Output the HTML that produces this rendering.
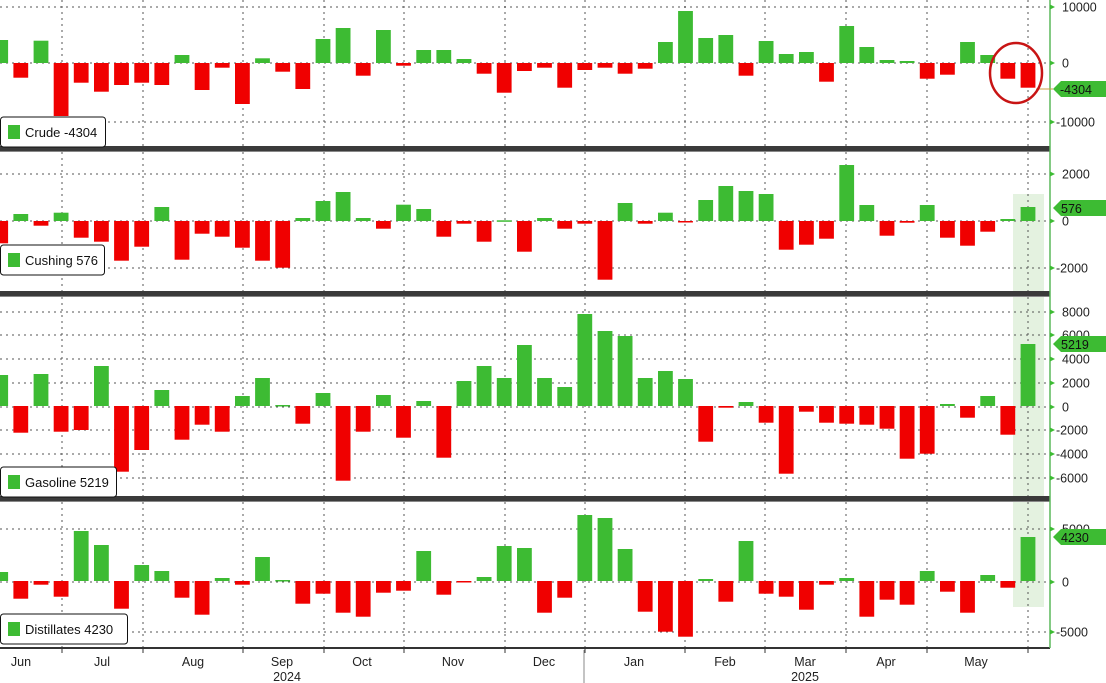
<!DOCTYPE html>
<html><head><meta charset="utf-8"><style>
html,body{margin:0;padding:0;background:#fff;overflow:hidden;}
svg{display:block;font-family:"Liberation Sans",sans-serif;}
</style></head><body>
<svg id="s" width="1106" height="683" xmlns="http://www.w3.org/2000/svg"></svg>
<script>
const s=document.getElementById('s');
let h='';
const KX=1050/1568, KY=1/3;
const G='#3dbb33',R='#f00000';
h+=`<rect x="1013" y="194" width="31" height="413" fill="#e4f2e0"/>`;
const vx=[62,143,243,324,404,505,585,685,765,846,927,1028];
const panels=[[0,148],[152,293],[297,498],[502,648]];
vx.forEach(x=>panels.forEach(p=>{h+=`<line x1="${x}" y1="${p[0]}" x2="${x}" y2="${p[1]}" stroke="#555" stroke-width="1" stroke-dasharray="2,4"/>`;}));
const hy=[7,63,122,174,221,268,312,335,359,383,407,430,454,478,529,582,632];
hy.forEach(y=>{h+=`<line x1="0" y1="${y}" x2="1050" y2="${y}" stroke="#555" stroke-width="1" stroke-dasharray="2,4"/>`;});
const P=[
[0,189,[120,233,122,348,248,275,255,248,255,165,270,203,312,175,215,267,117,84,227,90,197,150,150,177,221,278,213,203,263,210,203,221,206,126,33,114,105,227,123,162,156,245,78,141,180,183,236,224,126,165,236,263]],
[150,213,[280,192,227,188,263,275,332,290,171,329,251,260,293,332,353,204,153,126,204,236,164,177,260,221,275,211,305,204,236,221,389,159,221,188,215,150,108,123,132,299,284,266,45,165,257,218,165,263,287,245,207,171]],
[295,333,[240,413,237,410,405,213,530,465,285,434,389,410,303,249,330,386,294,557,410,300,428,318,488,258,213,249,150,249,276,57,108,123,249,228,252,440,338,321,383,536,350,383,386,389,401,491,476,327,368,303,419,147]],
[500,243,[216,296,254,290,93,135,326,195,213,293,344,234,254,171,240,311,281,338,350,278,272,153,284,245,231,138,144,338,293,45,54,147,335,395,410,237,305,123,281,290,329,254,234,350,299,314,213,275,338,225,263,111]]
];
P.forEach(([oy,z,e])=>{
 const zy=oy+z*KY;
 e.forEach((v,i)=>{
  const cx=(1+30.08*i)*KX, ey=oy+v*KY;
  const y1=Math.min(zy,ey),hh=Math.max(Math.abs(ey-zy),1.5);
  h+=`<rect x="${(cx-7.4).toFixed(1)}" y="${y1.toFixed(1)}" width="14.8" height="${hh.toFixed(1)}" fill="${ey<zy?G:R}"/>`;
 });
});
[[146,6],[291,6],[496,6]].forEach(([y,t])=>{h+=`<rect x="0" y="${y}" width="1050" height="${t}" fill="#3a3a3a"/><rect x="0" y="${y+t-1}" width="1050" height="1" fill="#888"/>`;});
h+=`<rect x="0" y="647" width="1050" height="2" fill="#333"/>`;
h+=`<line x1="1050" y1="0" x2="1050" y2="648" stroke="#5cb85c" stroke-width="1.5"/>`;
const ticks=[[7,'10000'],[63,'0'],[122,'-10000'],[174,'2000'],[221,'0'],[268,'-2000'],[312,'8000'],[335,'6000'],[359,'4000'],[383,'2000'],[407,'0'],[430,'-2000'],[454,'-4000'],[478,'-6000'],[529,'5000'],[582,'0'],[632,'-5000']];
ticks.forEach(([y,t])=>{h+=`<path d="M1050 ${y-2.5}L1055 ${y}L1050 ${y+2.5}Z" fill="#3dbb33"/><text x="${t[0]=='-'?1056:1062}" y="${y+4.5}" font-size="12.5" fill="#222">${t}</text>`;});
[[89,'-4304'],[208,'576'],[344,'5219'],[537,'4230']].forEach(([y,t])=>{h+=`<path d="M1053 ${y}L1061 ${y-8}L1106 ${y-8}L1106 ${y+8}L1061 ${y+8}Z" fill="#3dbb33"/><text x="${t[0]=='-'?1060:1061}" y="${y+5}" font-size="12.5" fill="#111">${t}</text>`;});
h+=`<line x1="1036" y1="89" x2="1053" y2="89" stroke="#c8a040" stroke-width="1"/>`;
h+=`<ellipse cx="1016" cy="73" rx="26" ry="30" fill="none" stroke="#c81414" stroke-width="2.5"/>`;
[[117,105,'Crude  -4304'],[245,104,'Cushing 576'],[467,116,'Gasoline 5219'],[614,127,'Distillates 4230']].forEach(([y,w,t])=>{h+=`<rect x="0.5" y="${y}" width="${w}" height="30" rx="3" fill="#fff" stroke="#111" stroke-width="1"/><rect x="8" y="${y+8}" width="12" height="14" fill="#3dbb33"/><text x="25" y="${y+20}" font-size="13" fill="#111">${t}</text>`;});
vx.forEach(x=>{h+=`<line x1="${x}" y1="648" x2="${x}" y2="653" stroke="#333"/>`;});
[[21,'Jun'],[102,'Jul'],[193,'Aug'],[282,'Sep'],[362,'Oct'],[453,'Nov'],[544,'Dec'],[634,'Jan'],[725,'Feb'],[805,'Mar'],[886,'Apr'],[976,'May']].forEach(([x,t])=>{h+=`<text x="${x}" y="666" font-size="12.5" fill="#222" text-anchor="middle">${t}</text>`;});
h+=`<text x="287" y="681" font-size="12.5" fill="#222" text-anchor="middle">2024</text><text x="805" y="681" font-size="12.5" fill="#222" text-anchor="middle">2025</text>`;
h+=`<line x1="584" y1="650" x2="584" y2="683" stroke="#888"/>`;
s.innerHTML=h;
</script>
</body></html>
